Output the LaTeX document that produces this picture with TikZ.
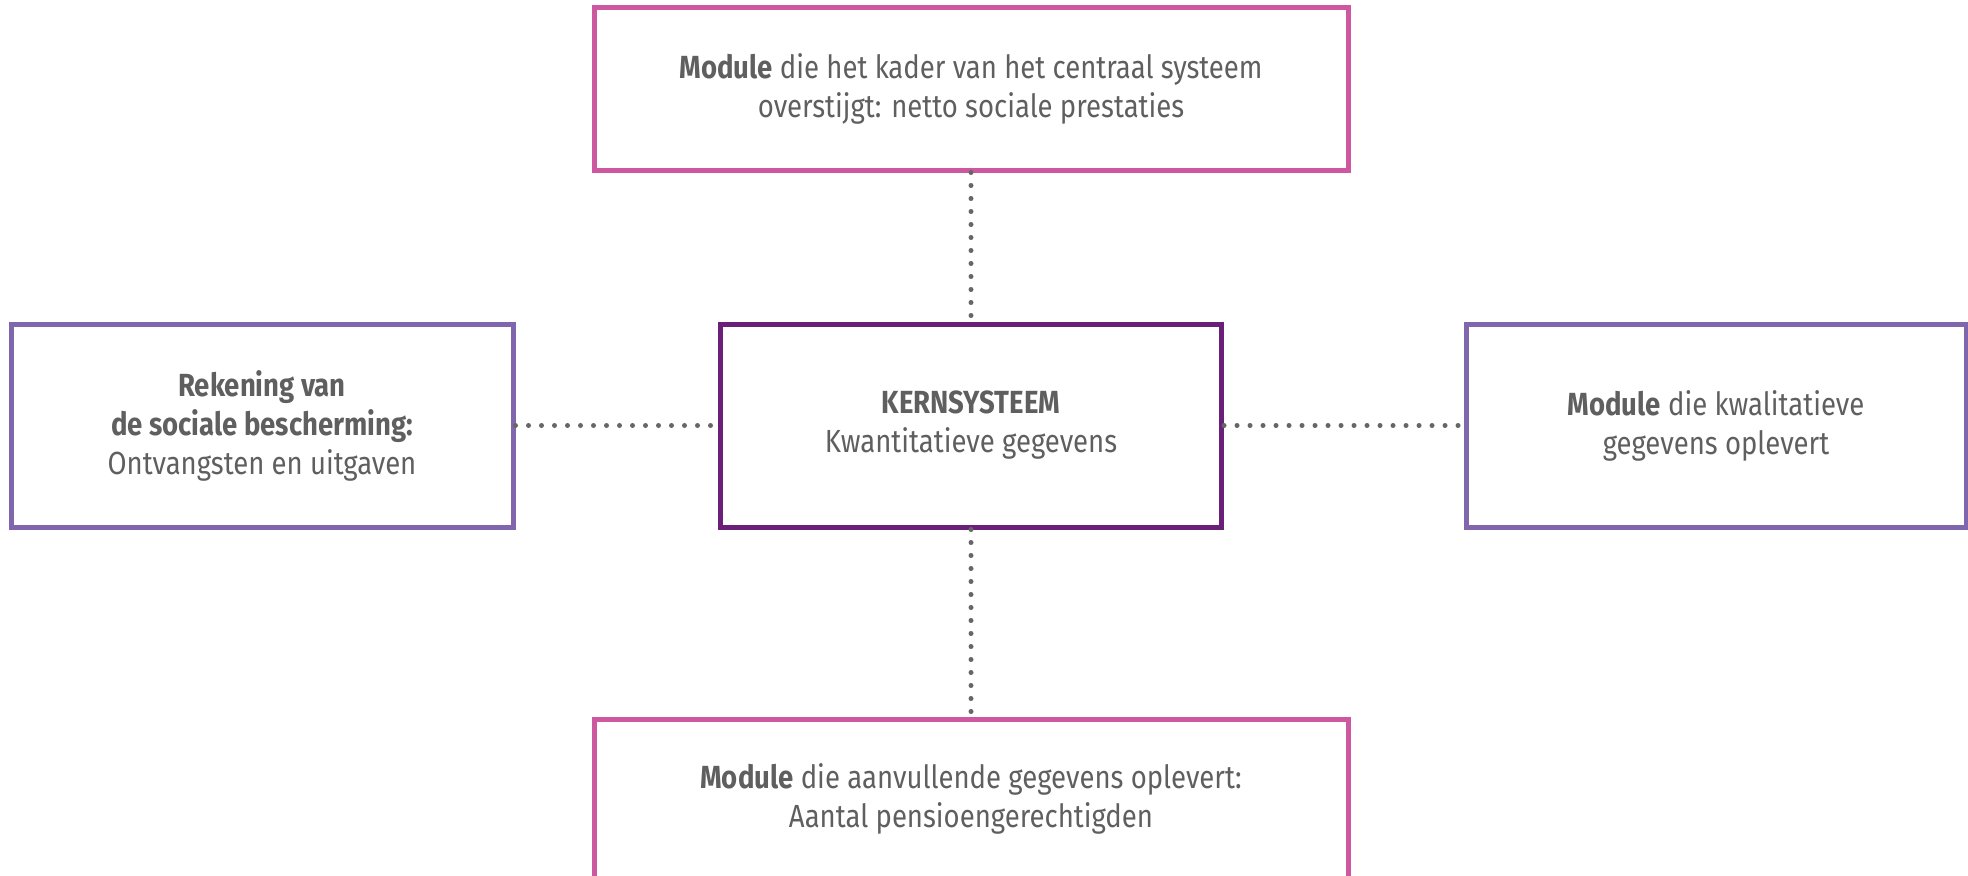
\documentclass[tikz,border=0pt]{standalone}
\usepackage{fontspec}
\setmainfont{Fira Sans}[FakeStretch=0.86]
\definecolor{pinkline}{HTML}{CE58A0}
\definecolor{lilacline}{HTML}{8066AC}
\definecolor{plumline}{HTML}{6A1F78}
\definecolor{textgray}{HTML}{5F5F5F}
\definecolor{dotgray}{HTML}{666666}
\begin{document}
\begin{tikzpicture}[x=0.5pt,y=0.5pt,
		box/.style={draw, line width=2.5pt, align=center, text=textgray,
			font=\fontsize{16}{19.5}\selectfont, inner sep=0pt},
		link/.style={dotgray, line width=2.5pt, line cap=round, dash pattern=on 0pt off 6.5pt}]
				\clip (0,0) rectangle (1968,875);
				% core
				\node[box, draw=plumline, minimum width=250.5pt, minimum height=101.5pt] (kern) at (971, 449.5)
					{\textbf{KERNSYSTEEM}\\Kwantitatieve gegevens};
				% modules above and below
				\node[box, draw=pinkline, minimum width=377pt, minimum height=81pt] (netto) at (971, 786)
					{\textbf{Module} die het kader van het centraal systeem\\overstijgt: netto sociale prestaties};
				\node[box, draw=pinkline, minimum width=377pt, minimum height=80pt] (pensioen) at (971, 76)
					{\textbf{Module} die aanvullende gegevens oplevert:\\Aantal pensioengerechtigden};
				% left and right
				\node[box, draw=lilacline, minimum width=251pt, minimum height=101.5pt] (rekening) at (262, 449.5)
					{\textbf{Rekening van}\\\textbf{de sociale bescherming:}\\Ontvangsten en uitgaven};
				\node[box, draw=lilacline, minimum width=250pt, minimum height=101.5pt] (kwal) at (1716, 449.5)
					{\textbf{Module} die kwalitatieve\\gegevens oplevert};
				% dotted links
				\draw[link] (netto) -- (kern);
				\draw[link] (kern) -- (pensioen);
				\draw[link] (rekening) -- (kern);
				\draw[link] (kern) -- (kwal);
\end{tikzpicture}
\end{document}
